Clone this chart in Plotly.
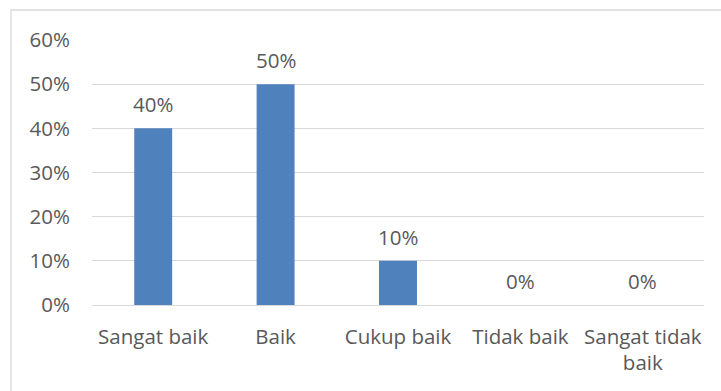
import plotly.graph_objects as go

categories = ["Sangat baik", "Baik", "Cukup baik", "Tidak baik", "Sangat tidak baik"]
tick_labels = ["Sangat baik", "Baik", "Cukup baik", "Tidak baik", "Sangat tidak<br>baik"]
values = [0.40, 0.50, 0.10, 0.0, 0.0]
y_ticks = [0, 0.1, 0.2, 0.3, 0.4, 0.5, 0.6]
y_tick_labels = ["0%", "10%", "20%", "30%", "40%", "50%", "60%"]

W, H = 721, 391
L, R, T, B = 92, 17, 40, 86
pw, ph = W - L - R, H - T - B

FONT = "Open Sans"
FS = 20.5
TXT = "#595959"
GRID = "#d9d9d9"

fig = go.Figure()
fig.add_trace(go.Bar(x=categories, y=values, marker_color="#4F81BD",
                     marker_line_width=0, hoverinfo="skip"))

for c, v in zip(categories, values):
    fig.add_annotation(x=c, y=v, text=f"{round(v*100)}%", showarrow=False,
                       yanchor="middle", yshift=24,
                       font=dict(family=FONT, size=FS, color=TXT))

def px_x(p):
    return (p - L) / pw

def px_y(p):
    return (H - B - p) / ph

fig.add_shape(type="rect", xref="paper", yref="paper",
              x0=px_x(11), x1=px_x(740), y0=px_y(410), y1=px_y(10),
              line=dict(color=GRID, width=1.3), fillcolor="rgba(0,0,0,0)", layer="below")

fig.update_layout(
    width=W, height=H,
    margin=dict(l=L, r=R, t=T, b=B),
    paper_bgcolor="white", plot_bgcolor="white",
    bargap=0.69,
    showlegend=False,
    font=dict(family=FONT, size=FS, color=TXT),
    xaxis=dict(tickmode="array", tickvals=categories, ticktext=tick_labels,
               showgrid=False, showline=True, linecolor=GRID, linewidth=1.3,
               ticks="", ticklabelstandoff=13,
               tickfont=dict(family=FONT, size=FS, color=TXT)),
    yaxis=dict(range=[0, 0.6], tickmode="array", tickvals=y_ticks, ticktext=y_tick_labels,
               showgrid=True, gridcolor=GRID, gridwidth=1.3, zeroline=False,
               showline=False, ticks="", ticklabelstandoff=21,
               tickfont=dict(family=FONT, size=FS, color=TXT)),
)

fig.write_html("out.html")
